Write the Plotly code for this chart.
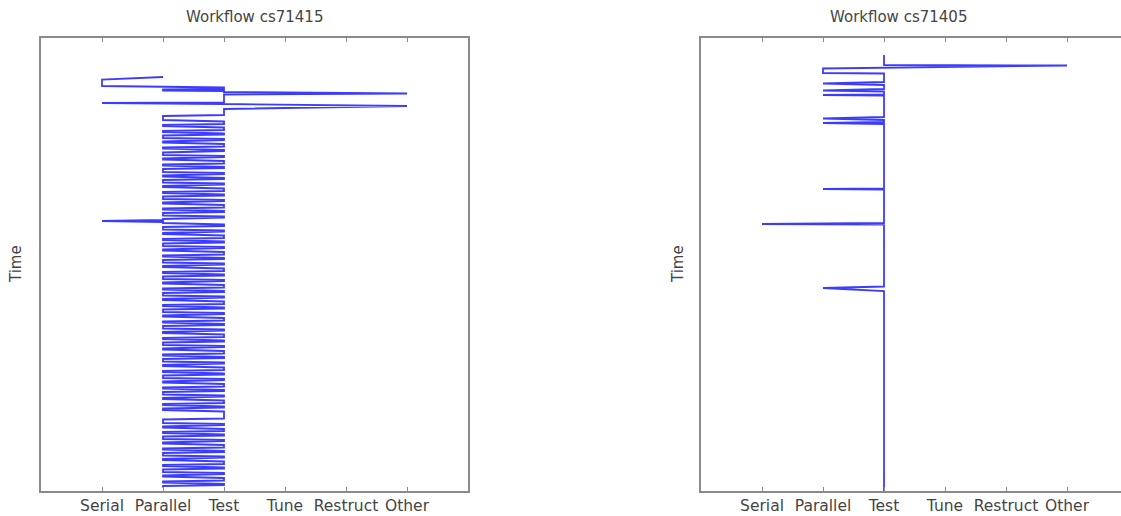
import plotly.graph_objects as go

categories = ["Serial", "Parallel", "Test", "Tune", "Restruct", "Other"]
titles = ["Workflow cs71415", "Workflow cs71405"]
y_label = "Time"
time_max = [453, 453]

# ---- Workflow cs71415 : visits (state, enter time, leave time) ----
left_state = [
    "Parallel", "Serial", "Parallel", "Test", "Parallel", "Test", "Other", "Test",
    "Serial", "Parallel", "Test", "Other", "Test",
    "Parallel", "Test", "Parallel", "Test", "Parallel", "Test", "Parallel", "Test",
    "Parallel", "Test", "Parallel", "Test", "Parallel", "Test", "Parallel", "Test",
    "Parallel", "Test", "Parallel", "Test", "Parallel", "Test", "Parallel", "Test",
    "Parallel", "Test", "Parallel", "Test", "Parallel", "Test", "Parallel", "Test",
    "Parallel", "Test", "Parallel", "Test", "Parallel", "Serial", "Parallel", "Test",
    "Parallel", "Test", "Parallel", "Test",
    "Parallel", "Test", "Parallel", "Test", "Parallel", "Test", "Parallel", "Test",
    "Parallel", "Test", "Parallel", "Test", "Parallel", "Test", "Parallel", "Test",
    "Parallel", "Test", "Parallel", "Test", "Parallel", "Test", "Parallel", "Test",
    "Parallel", "Test", "Parallel", "Test", "Parallel", "Test", "Parallel", "Test",
    "Parallel", "Test", "Parallel", "Test", "Parallel", "Test", "Parallel", "Test",
    "Parallel", "Test", "Parallel", "Test", "Parallel", "Test", "Parallel", "Test",
    "Parallel", "Test", "Parallel", "Test", "Parallel", "Test", "Parallel", "Test",
    "Parallel", "Test", "Parallel", "Test", "Parallel", "Test", "Parallel", "Test",
    "Parallel", "Test", "Parallel", "Test", "Parallel", "Test", "Parallel", "Test",
    "Parallel", "Test", "Parallel", "Test", "Parallel", "Test", "Parallel", "Test",
    "Parallel", "Test", "Parallel", "Test", "Parallel", "Test", "Parallel", "Test",
    "Parallel",
]
left_enter = [
    39, 41.5, 48.5, 49.5, 51.5, 53, 55.5, 56.5,
    65, 65.3, 65.6, 68, 71,
    78, 83.5, 87, 89.5, 93, 95.5, 97.5, 101,
    103.5, 106, 109.5, 112, 114.5, 118, 120.5, 123,
    126.5, 129, 131, 135, 137.5, 140, 142, 145.5,
    148, 150.5, 154, 156.5, 158.5, 162, 164.5, 167,
    170.5, 173, 175, 178.5, 181, 183, 184, 186.5,
    189, 192.5, 195, 197.5,
    201, 203.5, 205.5, 209, 211.5, 214, 217.5, 220,
    222, 225.5, 228, 230.5, 234, 236.5, 238.5, 242,
    244.5, 247, 250.5, 253, 255, 258.5, 261, 263.5,
    267, 269.5, 271.5, 275, 277.5, 280, 283.5, 286,
    288, 291.5, 294, 296.5, 300, 302.5, 304.5, 308,
    310.5, 313, 316.5, 319, 321, 324.5, 327, 329.5,
    333, 335.5, 337.5, 341, 343.5, 346, 349.5, 352,
    354, 357.5, 360, 362.5, 366, 368.5, 370.5, 373.5,
    381.5, 386, 388.5, 391, 394, 396.5, 398.5, 402,
    404.5, 407, 410.5, 413, 415, 418.5, 421, 423.5,
    427, 429.5, 431.5, 435, 437.5, 440, 443.5, 446,
    448,
]
left_leave = [
    39, 48, 49, 51, 52.5, 54, 55.5, 64.5,
    65, 65.3, 66, 68, 77,
    82, 86, 88, 92, 94, 96.5, 100, 102,
    104.5, 108.5, 110.5, 113, 117, 119, 121.5, 125.5,
    127.5, 130, 134, 136, 138.5, 141, 144.5, 146.5,
    149, 153, 155, 157.5, 161, 163, 165.5, 169.5,
    171.5, 174, 177.5, 179.5, 182, 183, 185, 188,
    191.5, 193.5, 196, 200,
    202, 204.5, 208, 210, 212.5, 216.5, 218.5, 221,
    224.5, 226.5, 229, 233, 235, 237.5, 241, 243,
    245.5, 249.5, 251.5, 254, 257.5, 259.5, 262, 266,
    268, 270.5, 274, 276, 278.5, 282.5, 284.5, 287,
    290.5, 292.5, 295, 299, 301, 303.5, 307, 309,
    311.5, 315.5, 317.5, 320, 323.5, 325.5, 328, 332,
    334, 336.5, 340, 342, 344.5, 348.5, 350.5, 353,
    356.5, 358.5, 361, 365, 367, 369.5, 372, 380.5,
    385, 387, 389.5, 393, 395, 397.5, 401, 403,
    405.5, 409.5, 411.5, 414, 417.5, 419.5, 422, 426,
    428, 430.5, 434, 436, 438.5, 442.5, 444.5, 447,
    449.5,
]

# ---- Workflow cs71405 ----
right_state = [
    "Test", "Other", "Parallel", "Test", "Parallel", "Test", "Parallel", "Test",
    "Parallel", "Test", "Parallel", "Test", "Parallel", "Test", "Parallel", "Test",
    "Serial", "Test", "Parallel", "Test",
]
right_enter = [
    17, 27.5, 30.5, 35.5, 45.5, 47, 52.5, 53.5,
    57, 57.5, 80.5, 82, 85, 86, 151, 151.5,
    186, 186.5, 250, 253,
]
right_leave = [
    27, 27.5, 35, 44, 45.5, 51, 52.5, 56.5,
    57, 79, 80.5, 84, 85, 150.5, 151, 185,
    186, 248.5, 250, 453,
]


def path(states, enter, leave):
    xs, ys = [], []
    for s, e, l in zip(states, enter, leave):
        xs += [s, s]
        ys += [e, l]
    return xs, ys


W, H = 1121, 516
LINE = "rgb(60,60,255)"
AX = "#8a8a8a"
TXT = "#444444"
FONT = "DejaVu Sans"

fig = go.Figure()
lx, ly = path(left_state, left_enter, left_leave)
rx, ry = path(right_state, right_enter, right_leave)
fig.add_trace(go.Scatter(x=lx, y=ly, mode="lines", line=dict(color=LINE, width=1.8),
                         xaxis="x", yaxis="y", hoverinfo="skip"))
fig.add_trace(go.Scatter(x=rx, y=ry, mode="lines", line=dict(color=LINE, width=1.8),
                         xaxis="x2", yaxis="y2", hoverinfo="skip"))

xcommon = dict(type="category", categoryorder="array", categoryarray=categories,
               tickmode="array", tickvals=categories, ticktext=categories,
               ticks="inside", ticklen=4, tickwidth=1, tickcolor=AX,
               showline=True, linecolor=AX, linewidth=1.5,
               showgrid=False, zeroline=False, automargin=False,
               tickfont=dict(family=FONT, size=15.5, color=TXT))
ycommon = dict(showticklabels=False, ticks="", showgrid=False, zeroline=False,
               showline=True, linecolor=AX, linewidth=1.5, automargin=False)

fig.update_layout(
    width=W, height=H,
    margin=dict(l=0, r=0, t=38, b=25),
    plot_bgcolor="white", paper_bgcolor="white",
    showlegend=False,
    xaxis=dict(domain=[41 / W, 468 / W], range=[-1, 6], mirror="allticks", anchor="y", **xcommon),
    yaxis=dict(domain=[0, 1], range=[time_max[0], 0], mirror=True, anchor="x", **ycommon),
    xaxis2=dict(domain=[701 / W, 1], range=[-1, 5.885], mirror="allticks", anchor="y2", **xcommon),
    yaxis2=dict(domain=[0, 1], range=[time_max[1], 0], mirror=False, anchor="x2", **ycommon),
)

plot_h = H - 38 - 25
def py(pix):
    return (H - 25 - pix) / plot_h

annotations = [
    dict(text=titles[0], x=254.5 / W, y=py(17)),
    dict(text=titles[1], x=898 / W, y=py(17)),
    dict(text=y_label, x=16 / W, y=py(264), textangle=-90),
    dict(text=y_label, x=678 / W, y=py(264), textangle=-90),
]
for a in annotations:
    a.update(xref="paper", yref="paper", showarrow=False, xanchor="center", yanchor="middle",
             font=dict(family=FONT, size=15, color=TXT))
fig.update_layout(annotations=annotations)

fig.write_html("out.html", config={"displayModeBar": False},
               post_script="document.body.style.margin='0';document.body.style.overflow='hidden';")
